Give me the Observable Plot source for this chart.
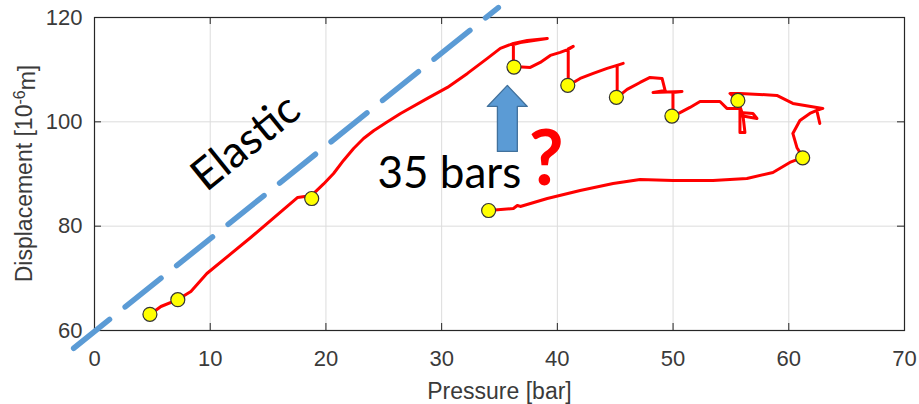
<!DOCTYPE html>
<html><head><meta charset="utf-8">
<script src="https://cdn.jsdelivr.net/npm/d3@7"></script>
<script src="https://cdn.jsdelivr.net/npm/@observablehq/plot@0.6"></script>
<style>html,body{margin:0;padding:0;background:#fff}svg{display:block}</style>
</head><body><div id="chart"></div>
<script>
// Measured trace: pressure [bar] vs displacement [1e-6 m]
const traceX = [4.80,5.74,7.20,8.33,9.71,13.50,17.56,18.77,19.80,20.66,21.52,22.39,23.25,24.12,25.25,26.45,28.77,30.50,32.23,33.95,35.07,36.20,37.40,39.13,36.80,36.20,36.20,37.66,38.52,39.39,40.25,40.94,41.37,40.94,40.94,41.97,43.10,44.30,45.43,45.69,45.17,45.17,46.03,47.15,48.01,49.05,49.31,48.27,50.77,49.99,49.99,51.46,52.33,54.05,54.65,55.78,55.78,57.25,56.90,55.78,55.78,56.21,56.04,55.61,54.92,55.78,58.97,60.35,62.94,62.42,62.68,62.42,61.82,60.96,60.35,60.70,61.22,60.09,58.63,56.38,53.45,50.00,47.15,44.82,41.97,39.13,36.80,36.54,36.20,34.04];
const traceY = [63.07,64.60,65.94,67.48,70.93,77.83,85.50,85.89,88.10,90.10,92.60,94.90,96.80,98.30,99.90,101.61,104.49,106.60,109.28,112.16,114.07,115.03,115.61,115.99,115.20,114.80,110.62,110.43,111.39,112.73,113.31,113.88,114.46,114.00,106.98,108.32,109.28,110.24,111.01,111.20,110.82,104.68,106.21,107.55,108.51,108.32,106.02,105.64,105.83,105.64,101.04,102.76,103.91,103.91,102.57,102.57,101.23,100.65,101.61,101.80,97.97,97.97,101.23,104.10,105.45,105.45,105.06,103.53,102.57,102.19,99.69,102.19,101.61,100.27,97.78,95.09,93.17,92.21,90.30,89.15,88.76,88.76,88.95,88.19,86.85,85.31,83.78,83.97,83.39,83.01];
// Yellow markers
const markerX = [4.79,7.20,18.77,36.25,40.90,45.10,49.90,55.60,61.20,34.06];
const markerY = [63.10,65.90,85.30,110.50,107.00,104.70,101.10,104.10,93.10,83.00];
// Elastic reference line
const elasticX = [-1.8, 34.9];
const elasticY = [56.6, 121.9];
// Annotation arrow outline (data units)
const arrowX = [34.82,36.54,36.54,37.40,35.68,33.95,34.82,34.82];
const arrowY = [94.32,94.32,102.95,102.95,106.98,102.95,102.95,94.32];
// Ticks
const xTicks = [0,10,20,30,40,50,60,70];
const yTicks = [60,80,100,120];
const xLabel = "Pressure [bar]";
const yLabelMain = "Displacement [10";
const yLabelSup = "-6";
const yLabelEnd = "m]";
const annotations = [
  {x: 13.07, y: 96.0, text: "Elastic"},
  {x: 24.46, y: 87.23, text: "35 bars"},
  {x: 39.04, y: 87.8, text: "?"}
];

const trace = traceX.map((x, i) => ({x, y: traceY[i]}));
const markers = markerX.map((x, i) => ({x, y: markerY[i]}));
const elastic = elasticX.map((x, i) => ({x, y: elasticY[i]}));
const arrow = arrowX.map((x, i) => ({x, y: arrowY[i]}));

const W = 919, H = 404, mL = 94, mR = 15, mT = 17, mB = 74;
const innerW = W - mL - mR, innerH = H - mT - mB;
const sans = "'Liberation Sans', Arial, Helvetica, sans-serif";
const axisColor = "#3a3a3a";

const chart = Plot.plot({
  width: W, height: H,
  marginLeft: mL, marginRight: mR, marginTop: mT, marginBottom: mB,
  style: {fontFamily: sans, fontSize: "22px", background: "#fff", overflow: "visible"},
  x: {domain: [0, 70]},
  y: {domain: [60, 120]},
  marks: [
    Plot.gridX(xTicks.slice(1, -1), {stroke: "#dcdcdc", strokeOpacity: 1}),
    Plot.gridY(yTicks.slice(1, -1), {stroke: "#dcdcdc", strokeOpacity: 1}),
    Plot.tickX(xTicks, {x: d => d, insetTop: innerH - 7, stroke: "#262626"}),
    Plot.tickX(xTicks, {x: d => d, insetBottom: innerH - 7, stroke: "#262626"}),
    Plot.tickY(yTicks, {y: d => d, insetRight: innerW - 7, stroke: "#262626"}),
    Plot.tickY(yTicks, {y: d => d, insetLeft: innerW - 7, stroke: "#262626"}),
    Plot.frame({stroke: "#262626", strokeWidth: 1.2}),
    Plot.axisX(xTicks, {tickSize: 0, tickPadding: 20, fontSize: 22, fill: axisColor, label: null}),
    Plot.axisY(yTicks, {tickSize: 0, tickPadding: 12, fontSize: 22, fill: axisColor, label: null}),
    Plot.text([xLabel], {text: d => d, frameAnchor: "bottom", dy: 68, lineAnchor: "bottom", fontSize: 23, fill: axisColor}),
    Plot.line(elastic, {x: "x", y: "y", stroke: "#5b9bd5", strokeWidth: 5.5, strokeDasharray: "46,20", clip: false}),
    Plot.line(trace, {x: "x", y: "y", stroke: "#ff0000", strokeWidth: 3, strokeLinejoin: "round", strokeLinecap: "round"}),
    Plot.dot(markers, {x: "x", y: "y", r: 7, fill: "#ffff00", stroke: "#333", strokeWidth: 1.2}),
    Plot.line(arrow, {x: "x", y: "y", fill: "#5b9bd5", stroke: "#41719c", strokeWidth: 1.3}),
    Plot.text(annotations.slice(0, 1), {x: "x", y: "y", text: "text", rotate: -39, fontSize: 44, fontFamily: "Lato, 'Open Sans', sans-serif", fill: "#000", textAnchor: "middle", lineAnchor: "middle"}),
    Plot.text(annotations.slice(1, 2), {x: "x", y: "y", text: "text", fontSize: 44, fontFamily: "Lato, 'Open Sans', sans-serif", fill: "#000", textAnchor: "start", lineAnchor: "bottom"}),
    Plot.text(annotations.slice(2, 3), {x: "x", y: "y", text: "text", fontSize: 76, fontWeight: "bold", fontFamily: "Lato, 'Open Sans', sans-serif", fill: "#ff0000", textAnchor: "middle", lineAnchor: "bottom"})
  ]
});

const svg = d3.select(chart);
const yl = svg.append("text")
  .attr("transform", `translate(32,${mT + innerH / 2}) rotate(-90)`)
  .attr("text-anchor", "middle")
  .attr("font-family", sans)
  .attr("font-size", 23)
  .attr("fill", axisColor);
yl.append("tspan").text(yLabelMain);
yl.append("tspan").attr("dy", "-0.45em").attr("font-size", 16).text(yLabelSup);
yl.append("tspan").attr("dy", "0.45em").text(yLabelEnd);

document.getElementById("chart").appendChild(chart);
</script>
</body></html>
